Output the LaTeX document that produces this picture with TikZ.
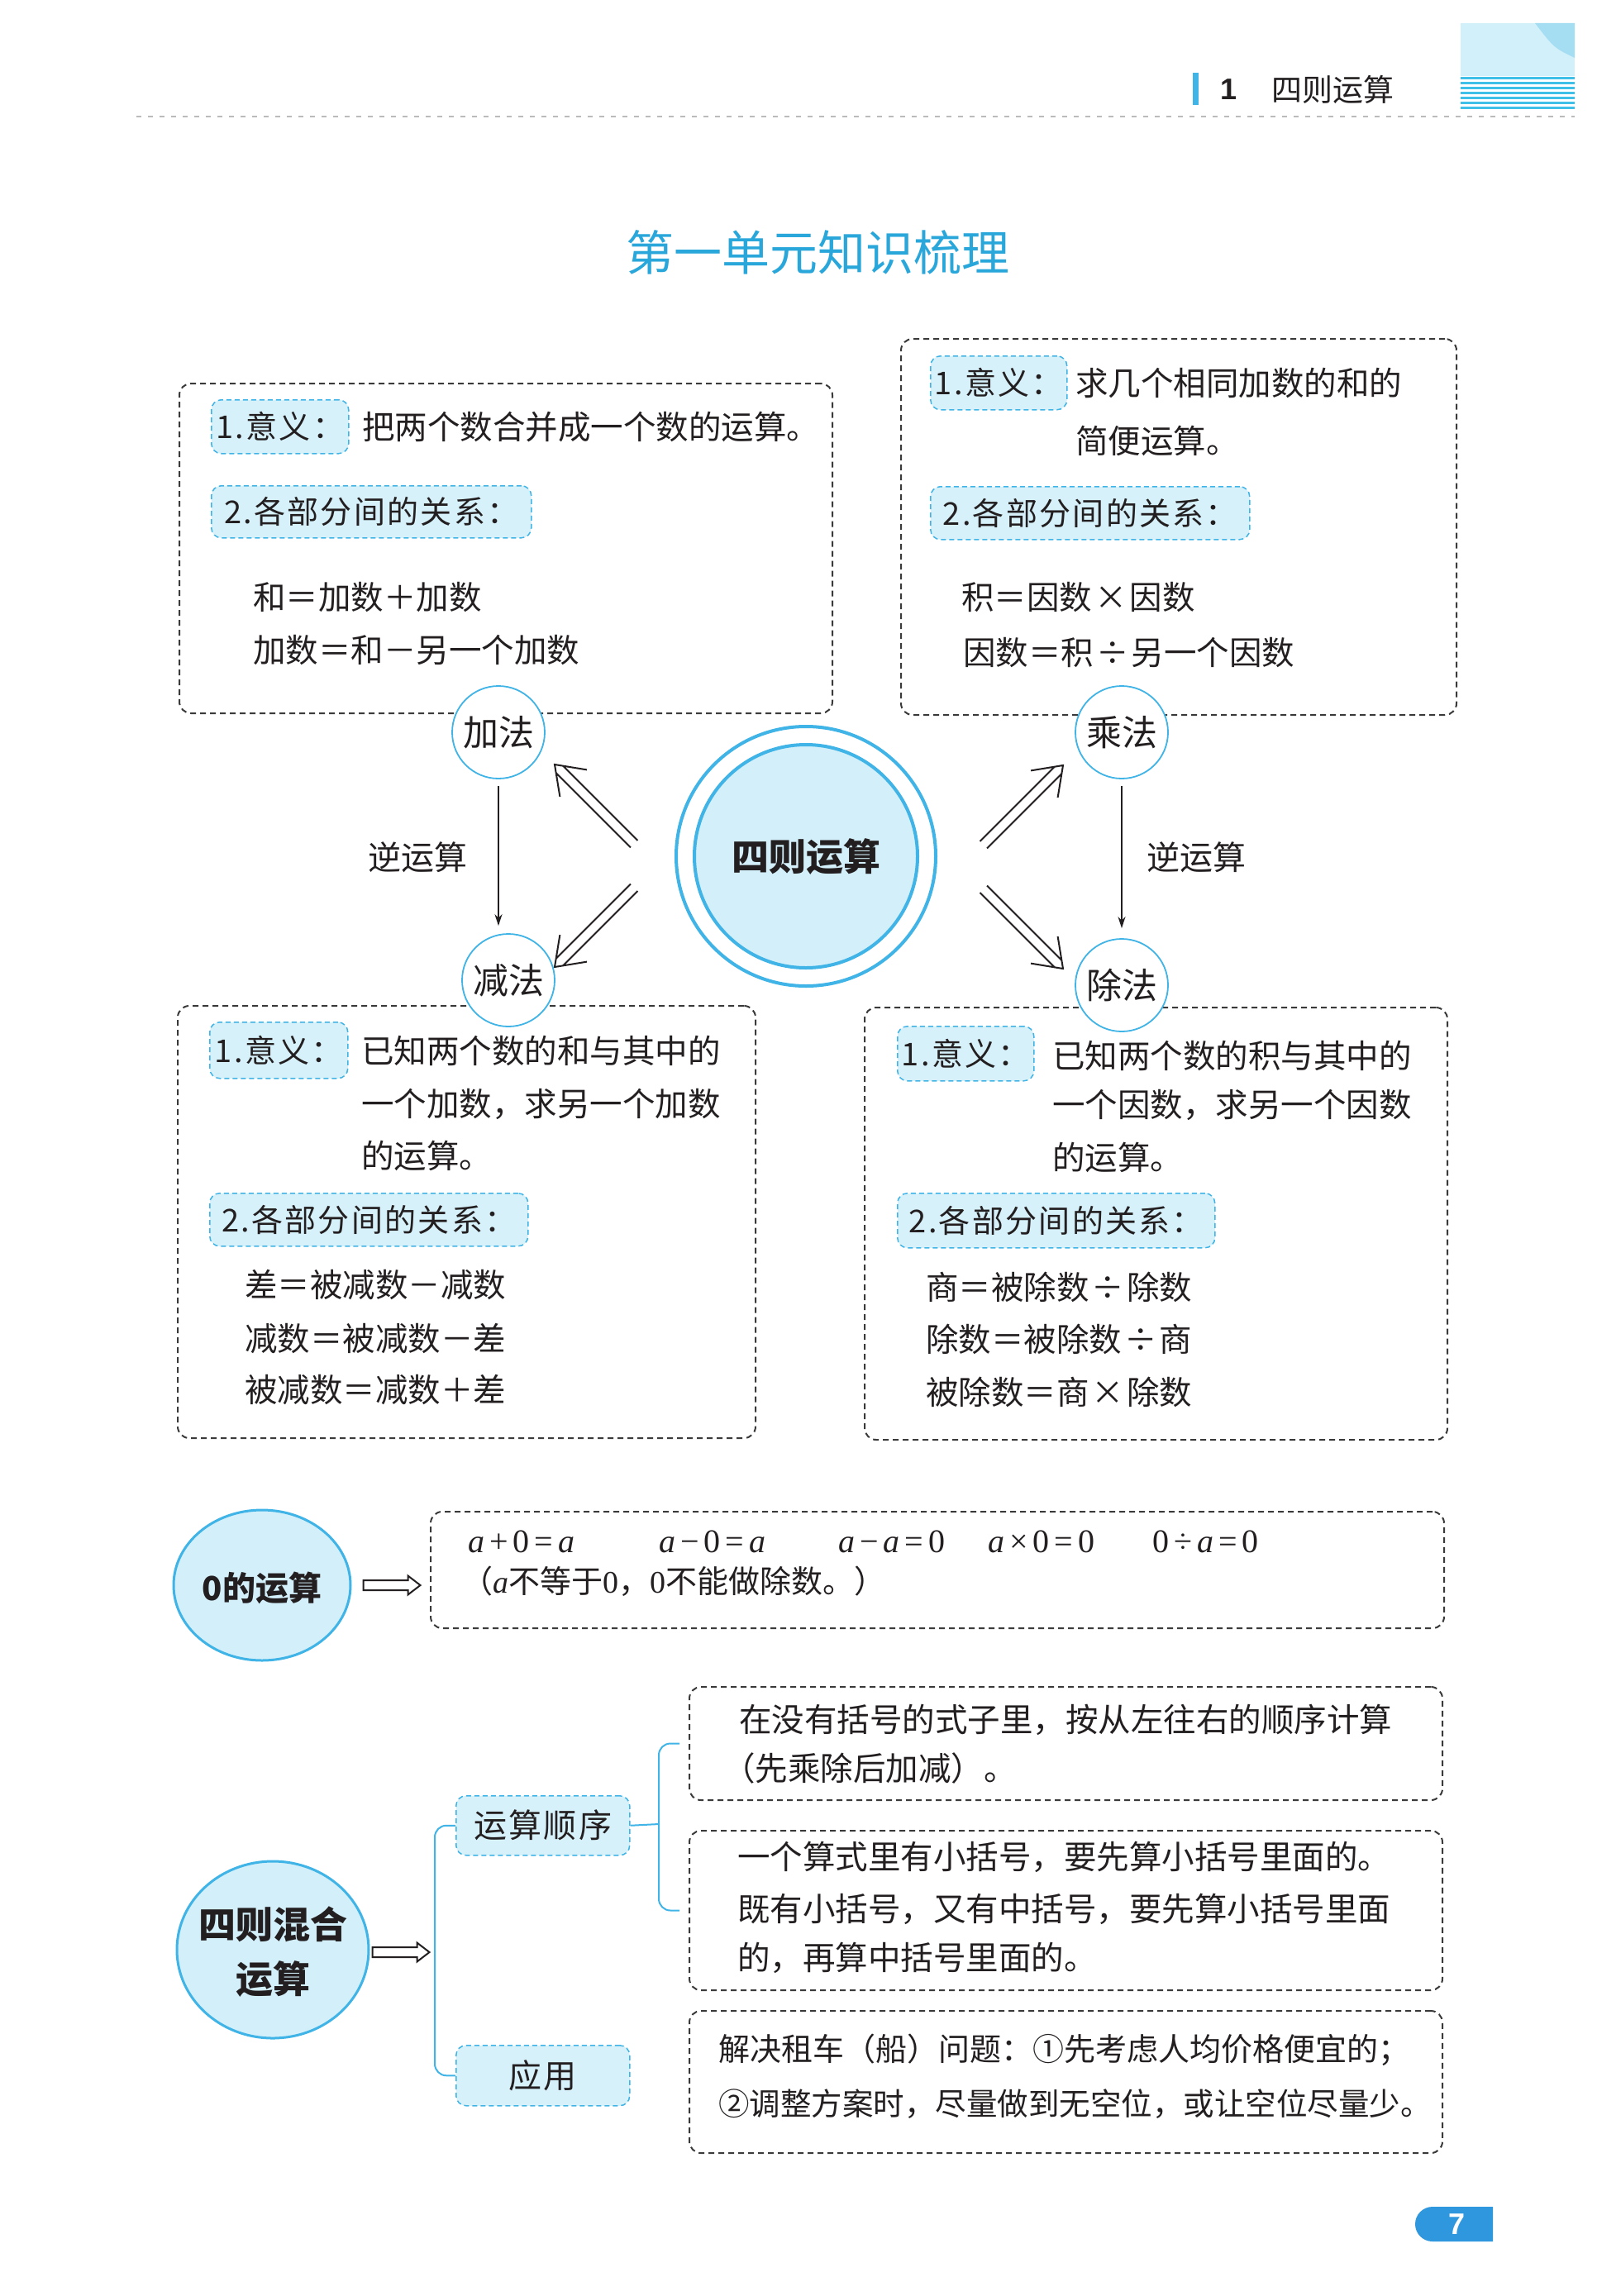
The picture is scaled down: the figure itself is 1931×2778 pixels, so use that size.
\documentclass[tikz,border=0pt]{standalone}
\usepackage{fontspec}
\setmainfont{Noto Sans CJK SC}
\newfontfamily\latf{Liberation Serif}
\newfontfamily\hdf{Liberation Sans}
\newfontfamily\tagf{Noto Sans CJK SC}[LetterSpace=6]
\usetikzlibrary{arrows.meta,calc,shapes.geometric}
\definecolor{cy}{HTML}{40B4E6}
\definecolor{tagfill}{HTML}{D6F1FA}
\definecolor{cfill}{HTML}{D3EFFA}
\definecolor{titlec}{HTML}{2AA7DA}
\definecolor{badge}{HTML}{2F97DE}
\definecolor{tx}{HTML}{231F20}
\definecolor{boxc}{HTML}{3A3A3A}
\definecolor{hdline}{HTML}{BBBBBB}
\definecolor{stripe}{HTML}{3FC0E8}
\definecolor{hdlight}{HTML}{D2F0FA}
\definecolor{hddark}{HTML}{A5DEF2}
\newcommand\fs[1]{\fontsize{#1}{#1}\selectfont}
\newcommand\ia{{\latf\itshape a}}
\newcommand\gp{\hspace{6pt}}
\begin{document}
\begin{tikzpicture}[x=1pt,y=-1pt,
  bigbox/.style={draw=boxc, line width=2pt, dash pattern=on 7pt off 5pt, rounded corners=14pt, inner sep=0pt, anchor=north west},
  tagbox/.style={draw=cy, fill=tagfill, line width=1.5pt, dash pattern=on 6pt off 4pt, rounded corners=12pt, inner sep=0pt, anchor=north west, font=\tagf\fs{38}, text=tx},
  body/.style={anchor=west, inner sep=0pt, font=\fs{39.5}, text=tx},
  opc/.style={circle, draw=cy, fill=white, line width=1.8pt, minimum size=112pt, inner sep=0pt, font=\fs{43}, text=tx},
  thinarr/.style={draw=tx, line width=1.8pt, -{Stealth[length=14pt, width=9pt]}},
  bracket/.style={draw=cy, line width=2pt, rounded corners=14pt},
  bigell/.style={ellipse, draw=cy, fill=cfill, line width=3pt, inner sep=0pt},
  pics/dblarrow/.style={code={
    \draw[tx, line width=2pt] (-136,6) -- (-8.3,6) (-136,-6) -- (-8.3,-6)
      (-32,23) -- (0,0) -- (-32,-23);}},
  pics/fatarrow/.style={code={
    \draw[tx, line width=2pt, line join=miter] (0,-6) -- (54,-6) -- (54,-11.5) -- (69,0) -- (54,11.5) -- (54,6) -- (0,6) -- cycle;}}
]
\useasboundingbox (0,0) rectangle (1931,2778);
\fill[white] (0,0) rectangle (1931,2778);

% header
\fill[cy] (1443,88) rectangle (1450,127);
\node[anchor=west, inner sep=0pt, font=\hdf\bfseries\fs{36}, text=tx] (hnum) at (1476,108) {1};
\node[anchor=west, inner sep=0pt, font=\fs{37}, text=tx] (htitle) at (1538,108) {四则运算};
\fill[hdlight] (1767,28) rectangle (1905,92);
\fill[hddark] (1857,28) -- (1905,28) -- (1905,70) .. controls (1880,58) .. (1857,28);
\foreach \yy in {94,100,106,112,118,124,130}{\fill[stripe] (1767,\yy-1.5) rectangle (1905,\yy+1.5);}
\draw[hdline, line width=1.5pt, dash pattern=on 6pt off 8pt] (165,141) -- (1905,141);

% title
\node[inner sep=0pt, font=\fs{58}, text=titlec] (title) at (989,305) {第一单元知识梳理};

% big boxes
\node[bigbox, minimum width=790pt, minimum height=399pt] (tl) at (216,463) {};
\node[bigbox, minimum width=672pt, minimum height=455pt] (tr) at (1089,409) {};
\node[bigbox, minimum width=699pt, minimum height=523pt] (bl) at (214,1216) {};
\node[bigbox, minimum width=705pt, minimum height=523pt] (br) at (1045,1218) {};

% TL contents
\node[tagbox, minimum width=166pt, minimum height=65pt] (tl1) at (255,483) {1.意义：};
\node[body] (tlt1) at (438,517) {把两个数合并成一个数的运算。};
\node[tagbox, minimum width=387pt, minimum height=63pt] (tl2) at (255,587) {2.各部分间的关系：};
\node[body] (tlr1) at (306,723) {和＝加数＋加数};
\node[body] (tlr2) at (306,787) {加数＝和－另一个加数};

% TR contents
\node[tagbox, minimum width=165pt, minimum height=65pt] (tr1) at (1125,430) {1.意义：};
\node[body] (trt1) at (1301,463) {求几个相同加数的和的};
\node[body] (trt2) at (1301,533) {简便运算。};
\node[tagbox, minimum width=386pt, minimum height=64pt] (tr2) at (1125,588) {2.各部分间的关系：};
\node[body] (trr1) at (1163,723) {积＝因数\hspace{3pt}×\hspace{3pt}因数};
\node[body] (trr2) at (1165,790) {因数＝积\hspace{3pt}÷\hspace{3pt}另一个因数};

% BL contents
\node[tagbox, minimum width=167pt, minimum height=68pt] (bl1) at (253,1236) {1.意义：};
\node[body] (blt1) at (437,1271) {已知两个数的和与其中的};
\node[body] (blt2) at (437,1336) {一个加数，求另一个加数};
\node[body] (blt3) at (437,1398) {的运算。};
\node[tagbox, minimum width=385pt, minimum height=64pt] (bl2) at (253,1443) {2.各部分间的关系：};
\node[body] (blr1) at (296,1555) {差＝被减数－减数};
\node[body] (blr2) at (296,1620) {减数＝被减数－差};
\node[body] (blr3) at (296,1682) {被减数＝减数＋差};

% BR contents
\node[tagbox, minimum width=165pt, minimum height=66pt] (br1) at (1085,1241) {1.意义：};
\node[body] (brt1) at (1273,1277) {已知两个数的积与其中的};
\node[body] (brt2) at (1273,1337) {一个因数，求另一个因数};
\node[body] (brt3) at (1273,1400) {的运算。};
\node[tagbox, minimum width=384pt, minimum height=66pt] (br2) at (1085,1443) {2.各部分间的关系：};
\node[body] (brr1) at (1120,1557) {商＝被除数\hspace{3pt}÷\hspace{3pt}除数};
\node[body] (brr2) at (1120,1620) {除数＝被除数\hspace{3pt}÷\hspace{3pt}商};
\node[body] (brr3) at (1120,1684) {被除数＝商\hspace{3pt}×\hspace{3pt}除数};

% operation circles
\node[opc] (jia) at (603,886) {加法};
\node[opc] (jian) at (615,1186) {减法};
\node[opc] (cheng) at (1357,886) {乘法};
\node[opc] (chu) at (1357,1192) {除法};

\draw[thinarr, shorten <=8pt, shorten >=9pt] (jia.south) -- (jia.south |- jian.north);
\draw[thinarr, shorten <=8pt, shorten >=12pt] (cheng.south) -- (cheng.south |- chu.north);
\node[inner sep=0pt, font=\fs{40}, text=tx] (ny1) at (505,1037) {逆运算};
\node[inner sep=0pt, font=\fs{40}, text=tx] (ny2) at (1447,1037) {逆运算};

% centre
\node[circle, draw=cy, line width=4pt, minimum size=314pt, inner sep=0pt] (outer) at (975,1036) {};
\node[circle, draw=cy, fill=cfill, line width=4pt, minimum size=270pt, inner sep=0pt, font=\bfseries\fs{45}, text=tx] (centre) at (975,1036) {四则运算};

\coordinate (tipUL) at (671,925);
\coordinate (tipLL) at (671,1170);
\coordinate (tipUR) at (1286,926);
\coordinate (tipLR) at (1286,1172);
\pic[rotate=135] at (tipUL) {dblarrow};
\pic[rotate=225] at (tipLL) {dblarrow};
\pic[rotate=45] at (tipUR) {dblarrow};
\pic[rotate=-45] at (tipLR) {dblarrow};

% zero section
\node[bigell, minimum width=214pt, minimum height=182pt] (zero) at (317,1918) {};
\node[inner sep=0pt, font=\bfseries\fs{40}, text=tx] (zerot) at (317,1921) {0的运算};
\pic at ($(zero.east)+(14,0)$) {fatarrow};
\node[bigbox, minimum width=1226pt, minimum height=141pt] (zbox) at (520,1828) {};
\node[body, font=\latf\fs{40}] (z1) at (566,1865) {\ia\gp+\gp0\gp=\gp\ia};
\node[body, font=\latf\fs{40}] (z2) at (797,1865) {\ia\gp−\gp0\gp=\gp\ia};
\node[body, font=\latf\fs{40}] (z3) at (1014,1865) {\ia\gp−\gp\ia\gp=\gp0};
\node[body, font=\latf\fs{40}] (z4) at (1195,1865) {\ia\gp×\gp0\gp=\gp0};
\node[body, font=\latf\fs{40}] (z5) at (1394,1865) {0\gp÷\gp\ia\gp=\gp0};
\node[body, font=\fs{38}] (z6) at (558,1913) {（\ia 不等于{\latf 0}，{\latf 0}不能做除数。）};

% mixed section
\node[bigell, minimum width=232pt, minimum height=214pt] (mix) at (330,2359) {};
\node[inner sep=0pt, font=\bfseries\fs{45}, text=tx] (mixt1) at (330,2328) {四则混合};
\node[inner sep=0pt, font=\bfseries\fs{45}, text=tx] (mixt2) at (330,2394) {运算};
\pic at ($(mix.east)+(3,3)$) {fatarrow};
\node[tagbox, minimum width=210pt, minimum height=72pt, font=\tagf\fs{40}] (ys) at (551,2172) {运算顺序};
\node[tagbox, minimum width=210pt, minimum height=73pt, font=\tagf\fs{40}] (yy) at (551,2474) {应用};
\coordinate (b1) at (526,2360);
\draw[bracket] (ys.west) -| (b1) |- (yy.west);

\node[bigbox, minimum width=911pt, minimum height=137pt] (ba) at (833,2040) {};
\node[bigbox, minimum width=911pt, minimum height=193pt] (bb) at (833,2214) {};
\node[bigbox, minimum width=911pt, minimum height=172pt] (bc) at (833,2432) {};
\coordinate (b2) at (797,2207);
\draw[bracket] (ys.east) -- (b2);
\draw[bracket] ($(ba.west)+(-11,0)$) -| (b2) |- ($(bb.west)+(-11,0)$);

\node[body] (a1) at (894,2081) {在没有括号的式子里，按从左往右的顺序计算};
\node[body] (a2) at (874,2139) {（先乘除后加减）。};
\node[body] (bb1) at (892,2247) {一个算式里有小括号，要先算小括号里面的。};
\node[body] (bb2) at (892,2310) {既有小括号，又有中括号，要先算小括号里面};
\node[body] (bb3) at (892,2369) {的，再算中括号里面的。};
\node[body, font=\fs{38}] (c1) at (869,2480) {解决租车（船）问题：①先考虑人均价格便宜的；};
\node[body, font=\fs{37.5}] (c2) at (869,2546) {②调整方案时，尽量做到无空位，或让空位尽量少。};

% page number
\fill[badge] (1806,2670) -- (1733,2670) arc[start angle=-90, end angle=-270, radius=21] -- (1806,2712) -- cycle;
\node[inner sep=0pt, font=\hdf\bfseries\fs{36}, text=white] (pg) at (1762,2691) {7};
\end{tikzpicture}
\end{document}
